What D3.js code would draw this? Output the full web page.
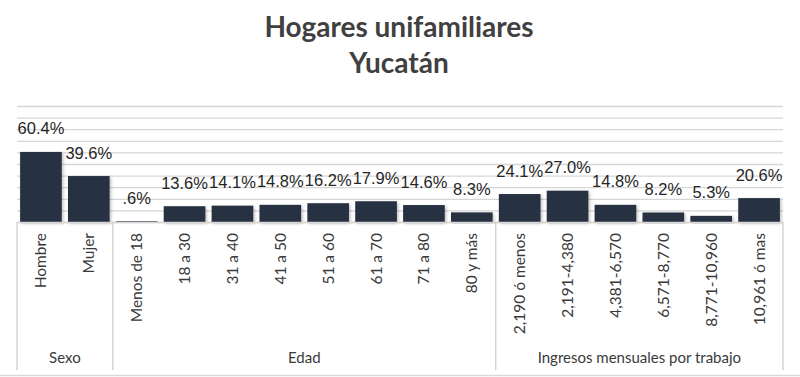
<!DOCTYPE html>
<html>
  <head>
    <meta charset="utf-8" />
    <title>Hogares unifamiliares Yucatán</title>
    <style>
      body {
        margin: 0;
        background: #ffffff;
      }
      .grid line {
        stroke: #d6d6d6;
        stroke-width: 1.3;
      }
      .bar {
        fill: #263142;
      }
      .valueLabel {
        font-family: "Liberation Sans", Arial, sans-serif;
        font-size: 16.5px;
        fill: #262626;
        text-anchor: middle;
      }
      .catLabel {
        font-family: Lato, "Open Sans", sans-serif;
        font-size: 15.5px;
        fill: #3a3a3a;
      }
      .groupLabel {
        font-family: Lato, "Open Sans", sans-serif;
        font-size: 15px;
        fill: #3a3a3a;
      }
      .title {
        font-family: Lato, "Open Sans", sans-serif;
        font-weight: bold;
        font-size: 28px;
        fill: #404040;
        text-anchor: middle;
      }
    </style>
  </head>
  <body>
    <div id="chart"></div>

    <script src="https://d3js.org/d3.v7.min.js"></script>

    <script>
      // data
      var categories = [
        "Hombre", "Mujer",
        "Menos de 18", "18 a 30", "31 a 40", "41 a 50", "51 a 60", "61 a 70", "71 a 80", "80 y más",
        "2,190 ó menos", "2,191-4,380", "4,381-6,570", "6,571-8,770", "8,771-10,960", "10,961 ó mas"
      ];
      var values = [60.4, 39.6, 0.6, 13.6, 14.1, 14.8, 16.2, 17.9, 14.6, 8.3, 24.1, 27.0, 14.8, 8.2, 5.3, 20.6];
      var valueLabels = [
        "60.4%", "39.6%", ".6%", "13.6%", "14.1%", "14.8%", "16.2%", "17.9%",
        "14.6%", "8.3%", "24.1%", "27.0%", "14.8%", "8.2%", "5.3%", "20.6%"
      ];
      var groupNames = ["Sexo", "Edad", "Ingresos mensuales por trabajo"];
      var groupSizes = [2, 8, 6];
      var titleLines = ["Hogares unifamiliares", "Yucatán"];

      var width = 800,
        height = 377;
      var plot = { left: 17, right: 783, top: 106, bottom: 222 };

      var svg = d3
        .select("#chart")
        .append("svg")
        .attr("width", width)
        .attr("height", height);

      // soft shadow under the bars
      var filter = svg
        .append("defs")
        .append("filter")
        .attr("id", "shadow")
        .attr("x", "-10%")
        .attr("y", "-10%")
        .attr("width", "130%")
        .attr("height", "130%");
      filter
        .append("feDropShadow")
        .attr("dx", 1.5)
        .attr("dy", 1.5)
        .attr("stdDeviation", 1.5)
        .attr("flood-color", "#000")
        .attr("flood-opacity", 0.25);

      // scales
      const x = d3
        .scaleBand()
        .domain(categories)
        .range([plot.left, plot.right])
        .paddingInner(0.13)
        .paddingOuter(0.065);

      const y = d3.scaleLinear().domain([0, 100]).range([plot.bottom, plot.top]);

      // title
      svg
        .selectAll(".title")
        .data(titleLines)
        .enter()
        .append("text")
        .attr("class", "title")
        .attr("x", 399)
        .attr("y", (d, i) => 37 + i * 36)
        .text((d) => d);

      // gridlines
      svg
        .append("g")
        .attr("class", "grid")
        .attr("transform", "translate(" + plot.left + ",0)")
        .call(
          d3
            .axisLeft(y)
            .ticks(10)
            .tickSize(-(plot.right - plot.left))
            .tickFormat("")
        )
        .call((g) => g.select(".domain").remove());

      // bars
      svg
        .selectAll(".bar")
        .data(values)
        .enter()
        .append("rect")
        .attr("class", "bar")
        .attr("filter", "url(#shadow)")
        .attr("x", (d, i) => x(categories[i]))
        .attr("y", (d) => y(d))
        .attr("width", x.bandwidth())
        .attr("height", (d) => Math.max(0.8, y(0) - y(d)));

      // value labels
      svg
        .selectAll(".valueLabel")
        .data(values)
        .enter()
        .append("text")
        .attr("class", "valueLabel")
        .attr("x", (d, i) => x(categories[i]) + x.bandwidth() / 2)
        .attr("y", (d) => y(d) - 17.5)
        .text((d, i) => valueLabels[i]);

      // category axis box
      var step = x.step();
      var bounds = [0];
      groupSizes.forEach((n, i) => bounds.push(bounds[i] + n));

      var axisG = svg.append("g");
      axisG
        .append("line")
        .attr("x1", plot.left)
        .attr("x2", plot.right)
        .attr("y1", plot.bottom + 0.5)
        .attr("y2", plot.bottom + 0.5)
        .attr("stroke", "#d6d6d6")
        .attr("stroke-width", 1.3);

      axisG
        .selectAll(".divider")
        .data(bounds)
        .enter()
        .append("line")
        .attr("x1", (d) => plot.left + d * step)
        .attr("x2", (d) => plot.left + d * step)
        .attr("y1", plot.bottom)
        .attr("y2", 370)
        .attr("stroke", "#d0d0d0")
        .attr("stroke-width", 1.3);

      // category labels, rotated
      axisG
        .selectAll(".catLabel")
        .data(categories)
        .enter()
        .append("text")
        .attr("class", "catLabel")
        .attr("text-anchor", "end")
        .attr("dy", "0.35em")
        .attr("transform", function (d) {
          return "translate(" + (x(d) + x.bandwidth() / 2) + ",233) rotate(-90)";
        })
        .text((d) => d);

      // group labels
      axisG
        .selectAll(".groupLabel")
        .data(groupNames)
        .enter()
        .append("text")
        .attr("class", "groupLabel")
        .attr("text-anchor", "middle")
        .attr("x", (d, i) => plot.left + ((bounds[i] + bounds[i + 1]) / 2) * step)
        .attr("y", 363)
        .text((d) => d);

      // bottom border
      svg
        .append("line")
        .attr("x1", 0)
        .attr("x2", width)
        .attr("y1", 375.5)
        .attr("y2", 375.5)
        .attr("stroke", "#d9d9d9")
        .attr("stroke-width", 1.5);
    </script>
  </body>
</html>
